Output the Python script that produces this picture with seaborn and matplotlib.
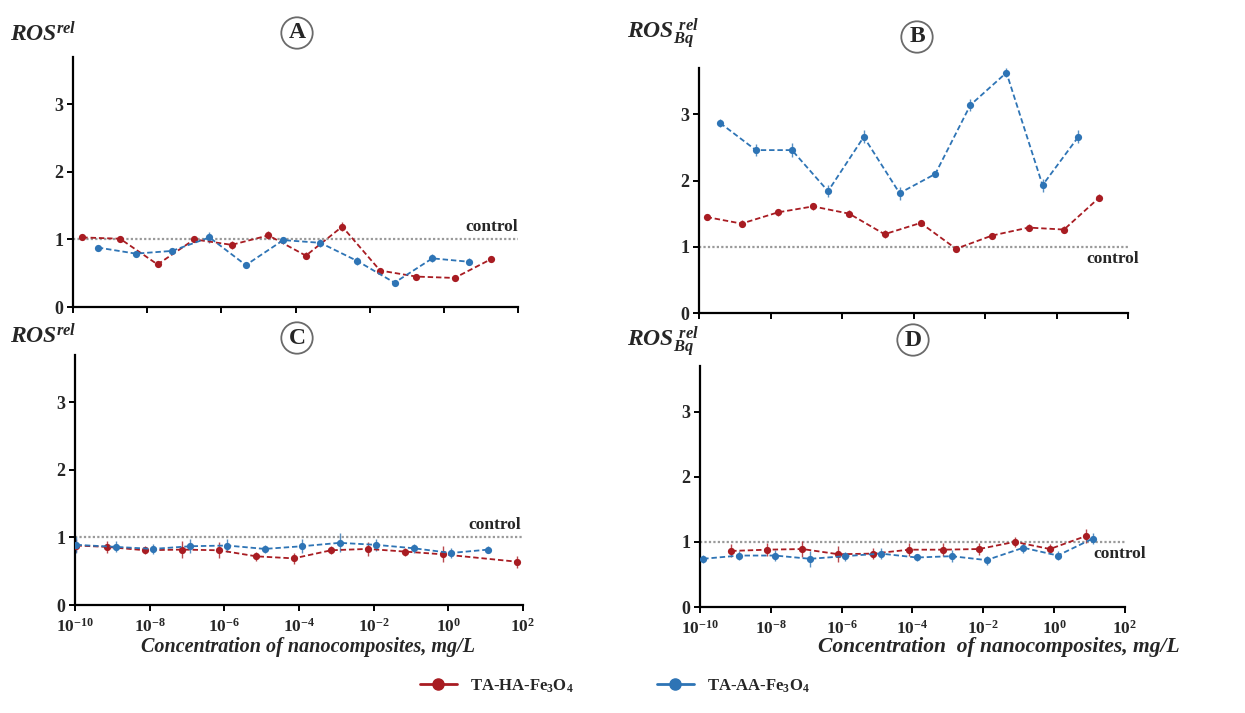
"""ROS response to TA-HA-Fe3O4 and TA-AA-Fe3O4 nanocomposites (panels A-D)."""

import matplotlib

matplotlib.use("Agg")
import matplotlib.pyplot as plt
import numpy as np
import pandas as pd
import seaborn as sns
from matplotlib.lines import Line2D

sns.set_theme(style="ticks")
plt.rcParams["font.family"] = ["Liberation Serif", "DejaVu Serif"]
plt.rcParams["font.weight"] = "bold"
plt.rcParams["mathtext.default"] = "regular"

RED = "#A81C22"
BLUE = "#2E74B5"
W, H = 1245, 713

# log10 of concentration (mg/L) and relative ROS values
a_ha_logc = [-9.75, -8.73, -7.72, -6.73, -5.72, -4.73, -3.72, -2.74, -1.72, -0.74, 0.29, 1.28]
a_ha_ros = [1.03, 1.01, 0.63, 1.00, 0.92, 1.06, 0.76, 1.19, 0.54, 0.45, 0.43, 0.71]
a_ha_err = [0.04, 0.04, 0.04, 0.04, 0.06, 0.06, 0.05, 0.07, 0.04, 0.04, 0.04, 0.05]
a_aa_logc = [-9.33, -8.31, -7.33, -6.32, -5.34, -4.33, -3.33, -2.33, -1.33, -0.31, 0.67]
a_aa_ros = [0.88, 0.79, 0.83, 1.03, 0.62, 0.99, 0.95, 0.68, 0.36, 0.72, 0.67]
a_aa_err = [0.04, 0.04, 0.05, 0.08, 0.04, 0.05, 0.06, 0.06, 0.04, 0.06, 0.05]

b_ha_logc = [-9.79, -8.81, -7.79, -6.81, -5.80, -4.81, -3.80, -2.81, -1.80, -0.78, 0.21, 1.19]
b_ha_ros = [1.45, 1.35, 1.52, 1.61, 1.50, 1.19, 1.36, 0.97, 1.17, 1.29, 1.26, 1.74]
b_ha_err = [0.05, 0.05, 0.05, 0.05, 0.05, 0.06, 0.05, 0.04, 0.04, 0.05, 0.05, 0.05]
b_aa_logc = [-9.41, -8.41, -7.40, -6.39, -5.39, -4.39, -3.39, -2.41, -1.40, -0.39, 0.61]
b_aa_ros = [2.87, 2.46, 2.46, 1.84, 2.66, 1.81, 2.10, 3.14, 3.63, 1.93, 2.66]
b_aa_err = [0.06, 0.09, 0.10, 0.09, 0.10, 0.10, 0.05, 0.09, 0.07, 0.10, 0.10]

c_ha_logc = [-9.96, -9.14, -8.13, -7.13, -6.14, -5.14, -4.14, -3.14, -2.16, -1.15, -0.15, 1.85]
c_ha_ros = [0.88, 0.86, 0.81, 0.82, 0.81, 0.72, 0.69, 0.81, 0.83, 0.79, 0.75, 0.64]
c_ha_err = [0.10, 0.09, 0.06, 0.12, 0.12, 0.07, 0.08, 0.06, 0.10, 0.06, 0.12, 0.09]
c_aa_logc = [-9.96, -8.91, -7.91, -6.91, -5.92, -4.92, -3.91, -2.91, -1.93, -0.93, 0.07, 1.07]
c_aa_ros = [0.89, 0.86, 0.83, 0.87, 0.88, 0.83, 0.87, 0.92, 0.89, 0.84, 0.77, 0.82]
c_aa_err = [0.12, 0.08, 0.08, 0.10, 0.09, 0.06, 0.10, 0.14, 0.09, 0.07, 0.08, 0.05]

d_ha_logc = [-9.12, -8.12, -7.11, -6.09, -5.11, -4.09, -3.13, -2.12, -1.11, -0.12, 0.90]
d_ha_ros = [0.86, 0.88, 0.89, 0.81, 0.82, 0.88, 0.88, 0.89, 1.00, 0.89, 1.09]
d_ha_err = [0.10, 0.10, 0.13, 0.12, 0.08, 0.10, 0.10, 0.09, 0.08, 0.08, 0.10]
d_aa_logc = [-9.91, -8.89, -7.88, -6.89, -5.91, -4.90, -3.88, -2.89, -1.91, -0.87, 0.10, 1.09]
d_aa_ros = [0.74, 0.79, 0.79, 0.74, 0.78, 0.82, 0.76, 0.78, 0.72, 0.91, 0.79, 1.05]
d_aa_err = [0.06, 0.07, 0.09, 0.12, 0.07, 0.08, 0.06, 0.09, 0.07, 0.08, 0.07, 0.09]

series_labels = [r"TA-HA-Fe$_3$O$_4$", r"TA-AA-Fe$_3$O$_4$"]
xtick_exps = [-10, -8, -6, -4, -2, 0, 2]


def px(x, y):
    return x / W, 1 - y / H


panels = [
    dict(letter="A", ylabel=r"$ROS^{rel}$", ha=(a_ha_logc, a_ha_ros, a_ha_err), aa=(a_aa_logc, a_aa_ros, a_aa_err),
         box=(73, 518, 307, 57), xlabels=False, ctrl_above=True, ctrl_x=1.0, ylab_xy=(10, 34), circ_xy=(297, 33)),
    dict(letter="B", ylabel=r"$ROS_{Bq}^{\ rel}$", ha=(b_ha_logc, b_ha_ros, b_ha_err), aa=(b_aa_logc, b_aa_ros, b_aa_err),
         box=(699, 1128, 313, 68), xlabels=False, ctrl_above=False, ctrl_x=1.025, ylab_xy=(627, 34), circ_xy=(917, 37)),
    dict(letter="C", ylabel=r"$ROS^{rel}$", ha=(c_ha_logc, c_ha_ros, c_ha_err), aa=(c_aa_logc, c_aa_ros, c_aa_err),
         box=(75, 523, 605, 355), xlabels=True, ctrl_above=True, ctrl_x=0.995, ylab_xy=(10, 336), circ_xy=(297, 338)),
    dict(letter="D", ylabel=r"$ROS_{Bq}^{\ rel}$", ha=(d_ha_logc, d_ha_ros, d_ha_err), aa=(d_aa_logc, d_aa_ros, d_aa_err),
         box=(700, 1125, 607, 366), xlabels=True, ctrl_above=False, ctrl_x=1.05, ylab_xy=(627, 342), circ_xy=(913, 340)),
]

fig = plt.figure(figsize=(W / 100, H / 100), dpi=100)

for p in panels:
    left, right, bottom, top = p["box"]
    ax = fig.add_axes([left / W, 1 - bottom / H, (right - left) / W, (bottom - top) / H])
    frames = []
    for name, (logc, ros, err) in zip(series_labels, [p["ha"], p["aa"]]):
        frames.append(pd.DataFrame({"conc": np.power(10.0, logc), "ros": ros, "err": err, "series": name}))
    df = pd.concat(frames, ignore_index=True)

    ax.axhline(1, color="#9a9a9a", ls=(0, (1, 1)), lw=1.6, zorder=1)
    for name, color in zip(series_labels, [RED, BLUE]):
        sub = df[df["series"] == name]
        ax.errorbar(sub["conc"], sub["ros"], yerr=sub["err"], fmt="none", ecolor=color,
                    elinewidth=1.0, capsize=0, alpha=0.8, zorder=2)
    sns.lineplot(data=df, x="conc", y="ros", hue="series", palette=[RED, BLUE], ax=ax,
                 marker="o", markersize=5.2, markeredgewidth=0, lw=1.3, linestyle=(0, (3, 1.6)),
                 legend=False, sort=False, zorder=3)

    ax.set_xscale("log")
    ax.set_xlim(1e-10, 1e2)
    ax.set_ylim(0, 3.7)
    ax.set_xticks(np.power(10.0, xtick_exps))
    ax.minorticks_off()
    ax.set_yticks([0, 1, 2, 3])
    ax.set_yticklabels(["0", "1", "2", "3"], fontsize=13, fontweight="bold")
    if p["xlabels"]:
        ax.set_xticklabels([rf"$10^{{{e}}}$" for e in xtick_exps], fontsize=12.5, fontweight="bold")
    else:
        ax.set_xticklabels([])
    ax.set_xlabel("")
    ax.set_ylabel("")
    sns.despine(ax=ax)
    for side in ["left", "bottom"]:
        ax.spines[side].set_color("black")
        ax.spines[side].set_linewidth(1.6)
    ax.tick_params(axis="both", direction="out", length=4, width=1.4, color="black", pad=3)
    ax.tick_params(axis="x", pad=5)

    if p["ctrl_above"]:
        ax.text(p["ctrl_x"], 1.06, "control", transform=ax.get_yaxis_transform(), ha="right", va="bottom",
                fontsize=12.5, fontweight="bold")
    else:
        ax.text(p["ctrl_x"], 0.93, "control", transform=ax.get_yaxis_transform(), ha="right", va="top",
                fontsize=12.5, fontweight="bold")

    fig.text(*px(*p["ylab_xy"]), p["ylabel"], fontsize=17, fontweight="bold", style="italic",
             ha="left", va="center")
    fig.text(*px(*p["circ_xy"]), p["letter"], fontsize=17, fontweight="bold", ha="center", va="center",
             bbox=dict(boxstyle="circle,pad=0.22", fc="white", ec="#6a6a6a", lw=1.3))

fig.text(*px(308, 647), "Concentration of nanocomposites, mg/L", fontsize=14.5,
         fontweight="bold", style="italic", ha="center", va="center")
fig.text(*px(999, 647), "Concentration  of nanocomposites, mg/L", fontsize=15.5,
         fontweight="bold", style="italic", ha="center", va="center")

handles = [Line2D([0], [0], color=c, lw=2, marker="o", markersize=8) for c in [RED, BLUE]]
fig.legend(handles, series_labels, loc="center", bbox_to_anchor=px(615, 686), ncol=2,
           frameon=False, prop={"weight": "bold", "size": 12}, handlelength=2.2, columnspacing=5)

fig.savefig("out.png", dpi=100, facecolor="white")
